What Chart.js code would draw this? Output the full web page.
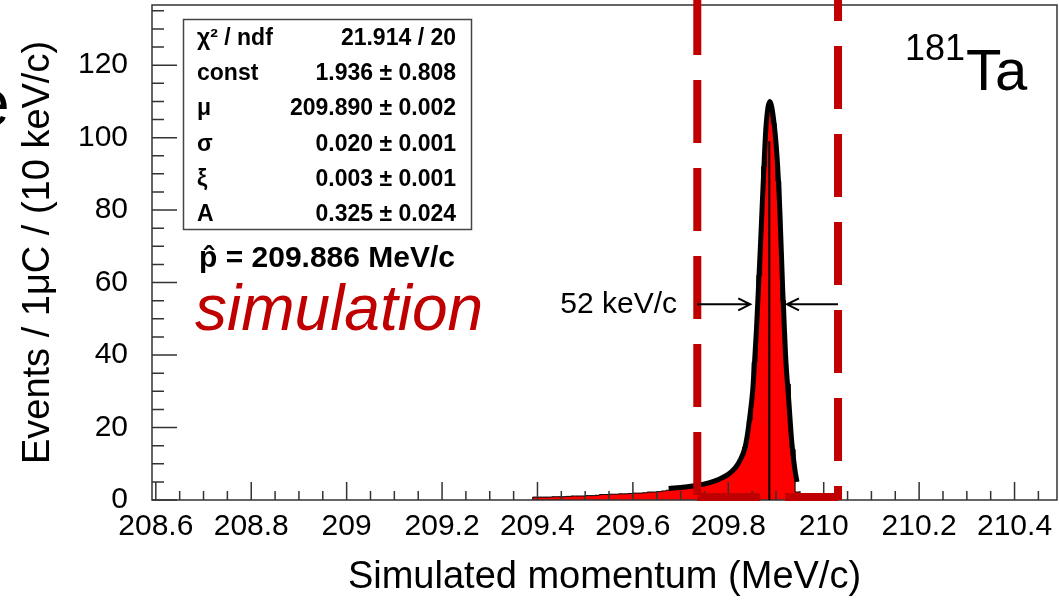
<!DOCTYPE html>
<html>
<head>
<meta charset="utf-8">
<script src="https://cdn.jsdelivr.net/npm/chart.js@4.4.1/dist/chart.umd.min.js"></script>
<style>
  html, body { margin: 0; padding: 0; background: #fff; }
  #wrap { width: 1059px; height: 600px; }
</style>
</head>
<body>
<div id="wrap"><canvas id="momentumChart" width="1059" height="600"></canvas></div>
<script>
// histogram: simulated momentum, 10 keV/c bins starting at binStart
const binStart = 209.39;
const binWidth = 0.01;
const binCounts = [
    0.8, 0.8, 0.8, 0.8, 0.9, 0.9, 0.9, 1.0, 1.1, 1.1,
    1.1, 1.2, 1.2, 1.3, 1.5, 1.5, 1.6, 1.6, 1.7, 1.7,
    1.8, 1.9, 1.9, 2.0, 2.2, 2.2, 2.3, 2.5, 2.7, 2.9,
    3.1, 3.3, 3.5, 3.8, 4.1, 4.4, 4.8, 5.2, 5.7, 6.0,
    6.7, 7.6, 8.9, 11, 14.5, 22, 38, 62, 92, 109,
    104, 88, 55, 32, 14, 2.2
];

// fitted curve
const fitMomentum = [209.675, 209.709, 209.734, 209.761, 209.782, 209.799, 209.814, 209.824, 209.834, 209.840,
    209.846, 209.851, 209.855, 209.859, 209.863, 209.868, 209.874, 209.879, 209.887, 209.895,
    209.902, 209.908, 209.914, 209.920, 209.927, 209.933, 209.940, 209.944];
const fitValues = [3.2, 3.6, 4.0, 4.8, 5.8, 7.0, 8.8, 10.8, 14, 18,
    24, 30, 38, 47, 58, 72, 90, 103, 110, 105,
    95, 80, 58, 40, 27, 16, 8, 5];

// axes
const xTickValues = [208.6, 208.8, 209, 209.2, 209.4, 209.6, 209.8, 210, 210.2, 210.4];
const yTickValues = [0, 20, 40, 60, 80, 100, 120];
const xRange = [208.592, 210.489];
const yRange = [0, 136.6];

// momentum window (dashed box), mean and FWHM markers
const windowEdges = [209.735, 210.03];
const windowLimits = [0.8, 141];
const pHat = 209.886;
const pHatTop = 99;
const fwhmEdges = [209.846, 209.923];
const fwhmLevel = 54;

const fitNames = ['χ² / ndf', 'const', 'μ', 'σ', 'ξ', 'A'];
const fitResults = ['21.914 / 20', '1.936 ± 0.808', '209.890 ± 0.002', '0.020 ± 0.001', '0.003 ± 0.001', '0.325 ± 0.024'];

const FONT = "'Liberation Sans', Arial, sans-serif";
const DARK_RED = '#c00000';

const histPoints = [{ x: binStart, y: 0 }]
    .concat(binCounts.map((c, i) => ({ x: binStart + i * binWidth, y: c })))
    .concat([{ x: binStart + binCounts.length * binWidth, y: 0 }]);
const fitPoints = fitMomentum.map((p, i) => ({ x: p, y: fitValues[i] }));

function drawFrameAndTicks(chart) {
    const { ctx, chartArea: area, scales: { x, y } } = chart;
    ctx.save();
    ctx.strokeStyle = '#333';
    ctx.lineWidth = 1.5;
    ctx.beginPath();
    // x ticks every 0.05, major every 0.2
    for (let k = Math.ceil(xRange[0] / 0.05); k * 0.05 <= xRange[1]; k++) {
        const px = x.getPixelForValue(k * 0.05);
        const len = (k % 4 === 0) ? 18 : 9;
        ctx.moveTo(px, area.bottom);
        ctx.lineTo(px, area.bottom - len);
    }
    // y ticks every 5, major every 20
    for (let k = 0; k * 5 <= yRange[1]; k++) {
        const py = y.getPixelForValue(k * 5);
        const len = (k % 4 === 0) ? 25 : 12;
        ctx.moveTo(area.left, py);
        ctx.lineTo(area.left + len, py);
    }
    ctx.stroke();
    ctx.strokeRect(area.left, area.top, area.right - area.left, area.bottom - area.top);
    ctx.restore();
}

function arrow(ctx, x0, x1, yy) {
    const dir = Math.sign(x1 - x0);
    ctx.beginPath();
    ctx.moveTo(x0, yy);
    ctx.lineTo(x1, yy);
    ctx.moveTo(x1 - dir * 12, yy - 6);
    ctx.lineTo(x1, yy);
    ctx.lineTo(x1 - dir * 12, yy + 6);
    ctx.stroke();
}

const annotations = {
    id: 'annotations',
    afterDatasetDraw(chart, args) {
        if (args.index === 0) drawFrameAndTicks(chart);
    },
    afterDraw(chart) {
        const { ctx, scales: { x, y } } = chart;
        ctx.save();

        // fit statistics box
        ctx.fillStyle = '#fff';
        ctx.fillRect(183.5, 19.5, 288, 210);
        ctx.strokeStyle = '#444';
        ctx.lineWidth = 1.5;
        ctx.strokeRect(183.5, 19.5, 288, 210);
        ctx.fillStyle = '#000';
        ctx.font = 'bold 23px ' + FONT;
        fitNames.forEach((name, i) => {
            const base = 45 + i * 35.2;
            ctx.textAlign = 'left';
            ctx.fillText(name, 197, base);
            ctx.textAlign = 'right';
            ctx.fillText(fitResults[i], 456, base);
        });

        ctx.textAlign = 'left';
        ctx.font = 'bold 30px ' + FONT;
        ctx.fillText('p\u0302 = ' + pHat.toFixed(3) + ' MeV/c', 199, 267);

        ctx.fillStyle = DARK_RED;
        ctx.font = 'italic 64px ' + FONT;
        ctx.fillText('simulation', 195, 330);

        // isotope label
        ctx.fillStyle = '#000';
        ctx.font = '36px ' + FONT;
        ctx.fillText('181', 905, 60);
        ctx.font = '58px ' + FONT;
        ctx.fillText('Ta', 966, 90);

        // cut-off letter at left edge
        ctx.font = '64px ' + FONT;
        ctx.fillText('e', -26, 125);

        // FWHM arrows
        const ay = y.getPixelForValue(fwhmLevel);
        ctx.strokeStyle = '#000';
        ctx.lineWidth = 2;
        arrow(ctx, x.getPixelForValue(windowEdges[0]), x.getPixelForValue(fwhmEdges[0]), ay);
        arrow(ctx, x.getPixelForValue(windowEdges[1]), x.getPixelForValue(fwhmEdges[1]), ay);
        ctx.font = '30px ' + FONT;
        ctx.textAlign = 'right';
        ctx.textBaseline = 'middle';
        ctx.fillText('52 keV/c', 677, ay);
        ctx.restore();
    }
};

const dashStyle = {
    type: 'line', borderColor: DARK_RED, borderWidth: 8, borderDash: [63, 25],
    pointRadius: 0, fill: false, clip: false, borderCapStyle: 'butt'
};

const ctx = document.getElementById('momentumChart').getContext('2d');
const momentumChart = new Chart(ctx, {
    type: 'line',
    data: {
        datasets: [{
            label: 'histogram',
            data: histPoints,
            stepped: 'before',
            borderColor: '#000',
            borderWidth: 1,
            backgroundColor: '#ff0000',
            fill: 'origin',
            pointRadius: 0,
            order: 5
        }, {
            label: 'fit',
            data: fitPoints,
            borderColor: '#000',
            borderWidth: 5,
            cubicInterpolationMode: 'monotone',
            fill: false,
            pointRadius: 0,
            order: 4
        }, {
            label: 'mean',
            data: [{ x: pHat, y: 0 }, { x: pHat, y: pHatTop }],
            borderColor: '#000',
            borderWidth: 2,
            fill: false,
            pointRadius: 0,
            order: 3
        }, Object.assign({}, dashStyle, {
            label: 'window low',
            data: [{ x: windowEdges[0], y: windowLimits[0] + 0.55 }, { x: windowEdges[0], y: windowLimits[1] }],
            order: 0
        }), Object.assign({}, dashStyle, {
            label: 'window bottom',
            data: [{ x: windowEdges[0], y: windowLimits[0] }, { x: windowEdges[1], y: windowLimits[0] }],
            order: 1
        }), Object.assign({}, dashStyle, {
            label: 'window high',
            data: [{ x: windowEdges[1], y: 0 }, { x: windowEdges[1], y: windowLimits[1] }],
            borderDashOffset: 49,
            order: 2
        })]
    },
    options: {
        responsive: false,
        animation: false,
        devicePixelRatio: 1,
        layout: { padding: { left: 0, top: 5, right: 2, bottom: 0 } },
        plugins: { legend: { display: false }, tooltip: { enabled: false } },
        scales: {
            x: {
                type: 'linear',
                min: xRange[0],
                max: xRange[1],
                grid: { display: false, drawTicks: false },
                border: { display: false },
                afterFit: (scale) => {
                    scale.height = 100;
                    scale.paddingLeft = 0;
                    scale.paddingRight = 0;
                },
                afterBuildTicks: (scale) => { scale.ticks = xTickValues.map(v => ({ value: v })); },
                ticks: {
                    autoSkip: false,
                    maxRotation: 0,
                    padding: 9,
                    color: '#000',
                    font: { family: FONT, size: 30 },
                    callback: (v) => String(v)
                },
                title: {
                    display: true,
                    text: 'Simulated momentum (MeV/c)',
                    color: '#000',
                    font: { family: FONT, size: 38 },
                    padding: { top: 0, bottom: 0 }
                }
            },
            y: {
                type: 'linear',
                min: yRange[0],
                max: yRange[1],
                grid: { display: false, drawTicks: false },
                border: { display: false },
                afterFit: (scale) => {
                    scale.width = 152;
                    scale.paddingTop = 0;
                    scale.paddingBottom = 0;
                },
                afterBuildTicks: (scale) => { scale.ticks = yTickValues.map(v => ({ value: v })); },
                ticks: {
                    padding: 24,
                    color: '#000',
                    font: { family: FONT, size: 30 },
                    callback: (v) => String(v)
                },
                title: {
                    display: true,
                    text: 'Events / 1μC / (10 keV/c)',
                    color: '#000',
                    font: { family: FONT, size: 38 },
                    padding: { top: 16, bottom: 0 }
                }
            }
        }
    },
    plugins: [annotations]
});
</script>
</body>
</html>
